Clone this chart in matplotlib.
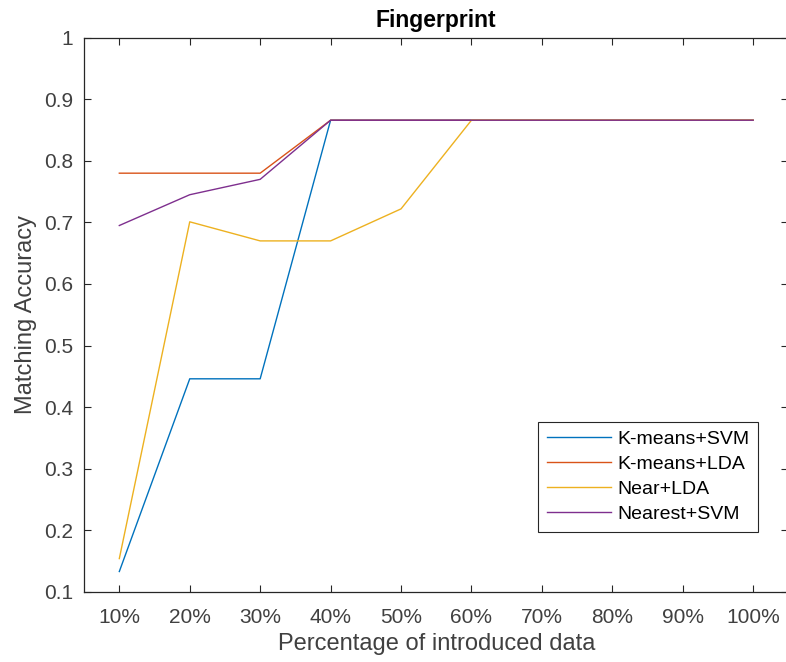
import matplotlib
matplotlib.use('Agg')
import matplotlib.pyplot as plt
import numpy as np

# data
pct_labels = ['10%', '20%', '30%', '40%', '50%', '60%', '70%', '80%', '90%', '100%']
kmeans_svm = [0.133, 0.446, 0.446, 0.866, 0.866, 0.866, 0.866, 0.866, 0.866, 0.866]
kmeans_lda = [0.780, 0.780, 0.780, 0.866, 0.866, 0.866, 0.866, 0.866, 0.866, 0.866]
near_lda = [0.154, 0.701, 0.670, 0.670, 0.722, 0.866, 0.866, 0.866, 0.866, 0.866]
nearest_svm = [0.695, 0.745, 0.770, 0.866, 0.866, 0.866, 0.866, 0.866, 0.866, 0.866]

plt.rcParams['font.family'] = ['Liberation Sans', 'DejaVu Sans']

fig = plt.figure(figsize=(7.86, 6.62), dpi=100)
ax = fig.add_axes([0.107, 0.106, 0.896, 0.837])

x = np.arange(1, len(pct_labels) + 1)
ax.plot(x, kmeans_svm, color='#0072BD', lw=1.0, label='K-means+SVM')
ax.plot(x, kmeans_lda, color='#D95319', lw=1.0, label='K-means+LDA')
ax.plot(x, near_lda, color='#EDB120', lw=1.0, label='Near+LDA')
ax.plot(x, nearest_svm, color='#7E2F8E', lw=1.0, label='Nearest+SVM')

ax.set_xlim(0.5, 10.5)
ax.set_ylim(0.1, 1.0)
ax.set_xticks(x)
ax.set_xticklabels(pct_labels)
ax.set_yticks(np.arange(0.1, 1.01, 0.1))
ax.set_yticklabels(['0.1', '0.2', '0.3', '0.4', '0.5', '0.6', '0.7', '0.8', '0.9', '1'])
ax.tick_params(direction='in', top=True, right=True, length=5, width=0.8,
               labelsize=15, colors='#262626', labelcolor='#404040')
ax.tick_params(axis='x', pad=12)
ax.tick_params(axis='y', pad=8)
for s in ax.spines.values():
    s.set_color('#262626')
    s.set_linewidth(0.9)

ax.set_xlabel('Percentage of introduced data', fontsize=17, color='#404040', labelpad=4)
ax.set_ylabel('Matching Accuracy', fontsize=17, color='#404040', labelpad=5)
ax.set_title('Fingerprint', fontsize=16.5, fontweight='bold', pad=8)

leg = ax.legend(loc='lower right', bbox_to_anchor=(0.957, 0.108), borderaxespad=0,
                fontsize=14, fancybox=False, framealpha=1, edgecolor='#262626',
                handlelength=3.3, handletextpad=0.3, borderpad=0.45, labelspacing=0.38)
leg.get_frame().set_linewidth(0.8)

fig.savefig('out.png', dpi=100)
